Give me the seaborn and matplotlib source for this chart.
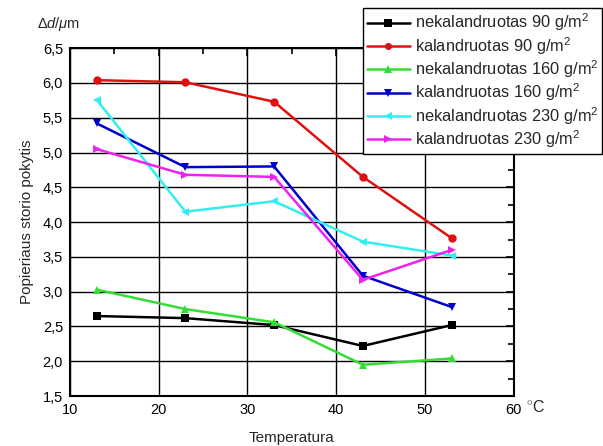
import pandas as pd
import numpy as np
import matplotlib
matplotlib.use('Agg')
import matplotlib.pyplot as plt
import seaborn as sns
from matplotlib.ticker import AutoMinorLocator

sns.set_theme(style='white')
plt.rcParams['font.family'] = ['Liberation Sans', 'DejaVu Sans']
plt.rcParams['mathtext.fontset'] = 'custom'
plt.rcParams['mathtext.rm'] = 'Liberation Sans'
plt.rcParams['mathtext.it'] = 'Liberation Sans:italic'

# Data
temperatures = [13, 23, 33, 43, 53]
nekal_90 = [2.65, 2.62, 2.52, 2.22, 2.52]
kal_90 = [6.04, 6.01, 5.73, 4.65, 3.77]
nekal_160 = [3.03, 2.75, 2.56, 1.95, 2.04]
kal_160 = [5.42, 4.79, 4.80, 3.23, 2.78]
nekal_230 = [5.76, 4.15, 4.30, 3.72, 3.52]
kal_230 = [5.05, 4.68, 4.65, 3.17, 3.60]

series_names = [
    'nekalandruotas 90 g/m$^2$',
    'kalandruotas 90 g/m$^2$',
    'nekalandruotas 160 g/m$^2$',
    'kalandruotas 160 g/m$^2$',
    'nekalandruotas 230 g/m$^2$',
    'kalandruotas 230 g/m$^2$',
]
series_values = [nekal_90, kal_90, nekal_160, kal_160, nekal_230, kal_230]
colors = ['#000000', '#e01010', '#33dd33', '#0000cc', '#33eeee', '#ee22ee']
markers = ['s', 'o', '^', 'v', '<', '>']

y_ticks = [1.5, 2.0, 2.5, 3.0, 3.5, 4.0, 4.5, 5.0, 5.5, 6.0, 6.5]
y_tick_labels = ['1,5', '2,0', '2,5', '3,0', '3,5', '4,0', '4,5', '5,0', '5,5', '6,0', '6,5']
x_ticks = [10, 20, 30, 40, 50, 60]

df = pd.DataFrame({
    'Temperatura': np.tile(temperatures, len(series_names)),
    'value': np.concatenate(series_values),
    'series': np.repeat(series_names, len(temperatures)),
})

fig = plt.figure(figsize=(6.03, 4.46), dpi=100)
ax = fig.add_axes([0.116, 0.112, 0.736, 0.780])

sns.lineplot(data=df, x='Temperatura', y='value', hue='series', style='series',
             hue_order=series_names, style_order=series_names,
             palette=colors, markers=markers, dashes=False,
             linewidth=1.8, markersize=6, markeredgewidth=0, ax=ax)

ax.set_xlim(10, 60)
ax.set_ylim(1.5, 6.5)
ax.set_xticks(x_ticks)
ax.set_xticklabels([str(t) for t in x_ticks])
ax.set_yticks(y_ticks)
ax.set_yticklabels(y_tick_labels)
ax.xaxis.set_minor_locator(AutoMinorLocator(2))
ax.yaxis.set_minor_locator(AutoMinorLocator(2))
ax.tick_params(which='both', direction='in', top=True, right=True, colors='black',
               labelsize=10.5, width=1.2)
ax.tick_params(which='major', length=6, pad=5)
ax.tick_params(which='minor', length=4)
ax.grid(True, which='major', color='black', linewidth=1)
for s in ax.spines.values():
    s.set_color('black')
    s.set_linewidth(1.5)

ax.set_xlabel('Temperatura', fontsize=11, labelpad=10)
ax.set_ylabel('Popieriaus storio pokytis', fontsize=11, labelpad=6)
fig.text(0.062, 0.925, r'$\mathit{\Delta d}$/$\mu$m', fontsize=10.5, ha='left', va='bottom')
fig.text(0.872, 0.087, '$^{\\circ}$C', fontsize=11.5, ha='left', va='center')

leg = ax.legend(loc='upper right', bbox_to_anchor=(0.999, 0.983),
                bbox_transform=fig.transFigure, frameon=True, fancybox=False,
                fontsize=11.8, handlelength=2.6, borderpad=0.25, labelspacing=0.1,
                handletextpad=0.3, borderaxespad=0, markerscale=0.85)
leg.get_frame().set_edgecolor('black')
leg.get_frame().set_linewidth(1)
leg.get_frame().set_alpha(1)

fig.savefig('out.png', dpi=100)
